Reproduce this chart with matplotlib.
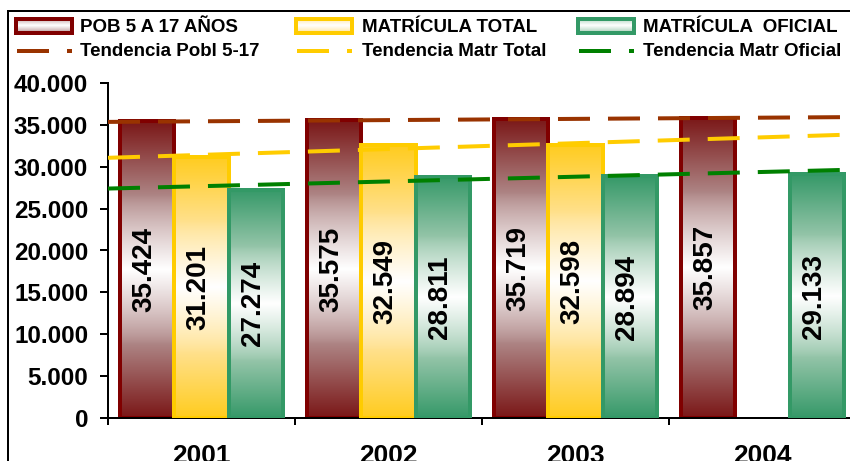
import numpy as np
import matplotlib
matplotlib.use("Agg")
import matplotlib.pyplot as plt
from matplotlib.patches import Rectangle
from matplotlib.lines import Line2D

# ---------------- data ----------------
years = ["2001", "2002", "2003", "2004"]
pob = [35424, 35575, 35719, 35857]
mat_total = [31201, 32549, 32598, None]
mat_oficial = [27274, 28811, 28894, 29133]

series_names = ["POB 5 A 17 AÑOS", "MATRÍCULA TOTAL", "MATRÍCULA  OFICIAL"]
trend_names = ["Tendencia Pobl 5-17", "Tendencia Matr Total", "Tendencia Matr Oficial"]
y_ticks = [0, 5000, 10000, 15000, 20000, 25000, 30000, 35000, 40000]

# ---------------- style ----------------
FONT = "Liberation Sans"
edge_colors = ["#800000", "#FFCC00", "#339966"]
end_colors = [(0.48, 0.09, 0.09), (1.0, 0.80, 0.12), (0.21, 0.60, 0.41)]
mid_colors = [(0.68, 0.52, 0.52), (1.0, 0.88, 0.55), (0.58, 0.77, 0.66)]
trend_colors = ["#993300", "#FFCC00", "#008000"]

W, H, DPI = 850, 461, 100
fig = plt.figure(figsize=(W / DPI, H / DPI), dpi=DPI)
fig.patch.set_facecolor("white")

def px(x, y):
    return x / W, 1 - y / H

ax_left, ax_right = 108, 856
ax_top, ax_bottom = 83, 418
ax = fig.add_axes([ax_left / W, 1 - ax_bottom / H, (ax_right - ax_left) / W, (ax_bottom - ax_top) / H])
ax.set_facecolor("none")

def gradient_img(i, n=256):
    t = np.linspace(0, 1, n)
    w = 1 - np.abs(2 * t - 1)          # 0 at ends, 1 at middle
    e = np.array(end_colors[i]); m = np.array(mid_colors[i]); wh = np.ones(3)
    img = np.empty((n, 3))
    lo = w <= 0.5
    a = (w[lo] / 0.5)[:, None]
    img[lo] = e + (m - e) * a
    b = ((w[~lo] - 0.5) / 0.5)[:, None] ** 0.8
    img[~lo] = m + (wh - m) * b
    return img[:, None, :]

bw = 0.29
offsets = [-bw, 0, bw]
xs = np.arange(len(years))
lw_px = 4
lw_pt = lw_px * 72 / DPI

all_series = [pob, mat_total, mat_oficial]
for si, vals in enumerate(all_series):
    for xi, v in enumerate(vals):
        if v is None:
            continue
        x0 = xs[xi] + offsets[si] - bw / 2
        z = 2 + si
        ax.bar(xs[xi] + offsets[si], v, width=bw, facecolor="none",
               edgecolor=edge_colors[si], linewidth=lw_pt, zorder=z + 0.5)
        clip = Rectangle((x0, 0), bw, v, transform=ax.transData)
        im = ax.imshow(gradient_img(si), extent=[x0, x0 + bw, 0, v],
                       aspect="auto", origin="lower", zorder=z, interpolation="bilinear")
        im.set_clip_path(clip)
        lab = f"{v:,}".replace(",", ".")
        ax.text(xs[xi] + offsets[si] - 0.015, v / 2, lab, rotation=90, ha="center", va="center",
                fontsize=20, fontweight="bold", family=FONT, color="black", zorder=10)

# trend lines (linear fit over available points)
xx = np.array([-0.5, 3.6])
dash = (8, 4.5)
for si, vals in enumerate(all_series):
    pts = [(i, v) for i, v in enumerate(vals) if v is not None]
    px_, py_ = zip(*pts)
    b, a = np.polyfit(px_, py_, 1)
    ax.plot(xx, a + b * xx, color=trend_colors[si], linewidth=lw_pt, linestyle=(0, dash),
            dash_capstyle="butt", zorder=8, clip_on=False)

ax.set_xlim(-0.5, 3.5)
ax.set_ylim(0, 40000)

# axes style
for s in ["top", "right"]:
    ax.spines[s].set_visible(False)
for s in ["left", "bottom"]:
    ax.spines[s].set_linewidth(2 * 72 / DPI)
    ax.spines[s].set_color("black")

ax.set_yticks(y_ticks)
ax.set_yticklabels([f"{t:,}".replace(",", ".") for t in y_ticks])
ax.tick_params(axis="y", direction="out", length=8 * 72 / DPI, width=2 * 72 / DPI, pad=8.5,
               labelsize=17.5)
for t in ax.get_yticklabels():
    t.set_fontweight("bold")
    t.set_family(FONT)

ax.set_xticks(np.arange(-0.5, 4, 1))
ax.set_xticklabels([])
ax.tick_params(axis="x", which="major", direction="out", length=7 * 72 / DPI, width=2 * 72 / DPI)
ax.set_xticks(xs, minor=True)
ax.set_xticklabels(years, minor=True)
ax.tick_params(axis="x", which="minor", length=0, pad=19, labelsize=19)
for t in ax.get_xticklabels(minor=True):
    t.set_fontweight("bold")
    t.set_family(FONT)

# outer frame (left and top borders visible)
fig.add_artist(Line2D([px(8, 0)[0], px(8, 0)[0]], [px(0, 11)[1], 0], color="black",
                      linewidth=2 * 72 / DPI, transform=fig.transFigure))
fig.add_artist(Line2D([px(8, 0)[0], 1], [px(0, 11)[1], px(0, 11)[1]], color="black",
                      linewidth=2 * 72 / DPI, transform=fig.transFigure))

# legend (manual)
leg_x = [16, 296, 578]
text_x = [80, 362, 643]
for i in range(3):
    x0, x1 = leg_x[i], leg_x[i] + 56
    y0, y1 = 19, 33
    fx0, fy0 = px(x0, y1)
    fx1, fy1 = px(x1, y0)
    lax = fig.add_axes([fx0, fy0, fx1 - fx0, fy1 - fy0])
    lax.imshow(gradient_img(i)[70:190], aspect="auto", extent=[0, 1, 0, 1])
    lax.set_xlim(0, 1); lax.set_ylim(0, 1)
    for s in lax.spines.values():
        s.set_color(edge_colors[i]); s.set_linewidth(lw_pt)
    lax.set_xticks([]); lax.set_yticks([])
    fig.text(*px(text_x[i], 27), series_names[i], fontsize=13.5, fontweight="bold", family=FONT,
             va="center", ha="left")
    ly = px(0, 51)[1]
    fig.add_artist(Line2D([px(leg_x[i] + 1, 0)[0], px(leg_x[i] + 33, 0)[0]], [ly, ly],
                          color=trend_colors[i], linewidth=lw_pt, solid_capstyle="butt",
                          transform=fig.transFigure))
    fig.add_artist(Line2D([px(leg_x[i] + 51, 0)[0], px(leg_x[i] + 56, 0)[0]], [ly, ly],
                          color=trend_colors[i], linewidth=lw_pt, solid_capstyle="butt",
                          transform=fig.transFigure))
    fig.text(*px(text_x[i], 52), trend_names[i], fontsize=13.5, fontweight="bold", family=FONT,
             va="center", ha="left")

fig.savefig("out.png", dpi=DPI, facecolor="white")
